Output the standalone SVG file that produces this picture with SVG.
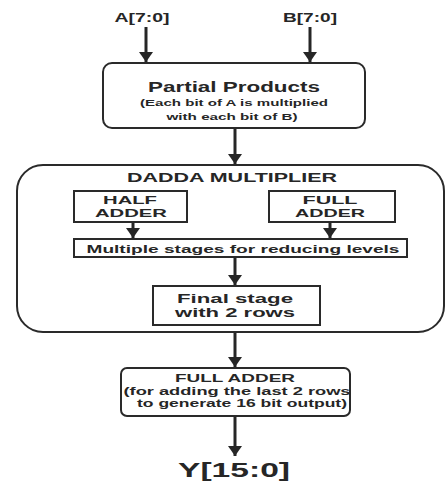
<svg xmlns="http://www.w3.org/2000/svg" width="448" height="481" viewBox="0 0 448 481">
<style>
text{font-family:"Liberation Sans",Arial,sans-serif;font-weight:bold;fill:#262626;text-anchor:middle}
.box{fill:#fff;stroke:#2a2a2a;stroke-width:2}
.ln{stroke:#262626;stroke-width:3;fill:none;marker-end:url(#ah)}
</style>
<defs>
<marker id="ah" viewBox="0 0 10 10" refX="10" refY="5" markerWidth="10" markerHeight="14" markerUnits="userSpaceOnUse" orient="auto" preserveAspectRatio="none">
<path d="M0,0 L10,5 L0,10 z" fill="#262626"/>
</marker>
</defs>
<rect width="448" height="481" fill="#fff"/>
<g id="inA"><text x="142" y="22" font-size="12" textLength="55" lengthAdjust="spacingAndGlyphs">A[7:0]</text></g>
<g id="inB"><text x="310" y="22" font-size="12" textLength="54" lengthAdjust="spacingAndGlyphs">B[7:0]</text></g>
<g id="partial">
<rect class="box" x="103" y="63" width="262" height="65" rx="9"/>
<text x="234" y="92" font-size="14" textLength="172" lengthAdjust="spacingAndGlyphs">Partial Products</text>
<text x="234" y="106" font-size="9.5" textLength="188" lengthAdjust="spacingAndGlyphs">(Each bit of A is multiplied</text>
<text x="232" y="120" font-size="9.5" textLength="131" lengthAdjust="spacingAndGlyphs">with each bit of B)</text>
</g>
<g id="dadda">
<rect class="box" x="17" y="165" width="427" height="167" rx="26"/>
<text x="232" y="182" font-size="12" textLength="210" lengthAdjust="spacingAndGlyphs">DADDA MULTIPLIER</text>
</g>
<g id="half">
<rect class="box" x="74" y="191" width="113" height="31"/>
<text x="130" y="204" font-size="11" textLength="54" lengthAdjust="spacingAndGlyphs">HALF</text>
<text x="131" y="217" font-size="11" textLength="72" lengthAdjust="spacingAndGlyphs">ADDER</text>
</g>
<g id="full">
<rect class="box" x="269" y="191" width="126" height="31"/>
<text x="330" y="204" font-size="11" textLength="55" lengthAdjust="spacingAndGlyphs">FULL</text>
<text x="330" y="217" font-size="11" textLength="70" lengthAdjust="spacingAndGlyphs">ADDER</text>
</g>
<g id="stages">
<rect class="box" x="74" y="239" width="333" height="18"/>
<text x="243" y="253" font-size="11" textLength="313" lengthAdjust="spacingAndGlyphs">Multiple stages for reducing levels</text>
</g>
<g id="final">
<rect class="box" x="153" y="286" width="167" height="39"/>
<text x="235" y="303" font-size="13" textLength="116" lengthAdjust="spacingAndGlyphs">Final stage</text>
<text x="235" y="317" font-size="13" textLength="120" lengthAdjust="spacingAndGlyphs">with 2 rows</text>
</g>
<g id="fulladder">
<rect class="box" x="121" y="368" width="229" height="48" rx="6"/>
<text x="235" y="382" font-size="10" textLength="120" lengthAdjust="spacingAndGlyphs">FULL ADDER</text>
<text x="237" y="395" font-size="10" textLength="227" lengthAdjust="spacingAndGlyphs">(for adding the last 2 rows</text>
<text x="242" y="407" font-size="10" textLength="210" lengthAdjust="spacingAndGlyphs">to generate 16 bit output)</text>
</g>
<g id="out"><text x="234" y="477" font-size="21" textLength="112" lengthAdjust="spacingAndGlyphs">Y[15:0]</text></g>
<g id="connectors">
<line class="ln" x1="146" y1="27" x2="146" y2="62"/>
<line class="ln" x1="310" y1="27" x2="310" y2="62"/>
<line class="ln" x1="235" y1="129" x2="235" y2="164"/>
<line class="ln" x1="133" y1="223" x2="133" y2="238"/>
<line class="ln" x1="330" y1="223" x2="330" y2="238"/>
<line class="ln" x1="235" y1="258" x2="235" y2="285"/>
<line class="ln" x1="235" y1="333" x2="235" y2="367"/>
<line class="ln" x1="235" y1="417" x2="235" y2="456"/>
</g>
</svg>
